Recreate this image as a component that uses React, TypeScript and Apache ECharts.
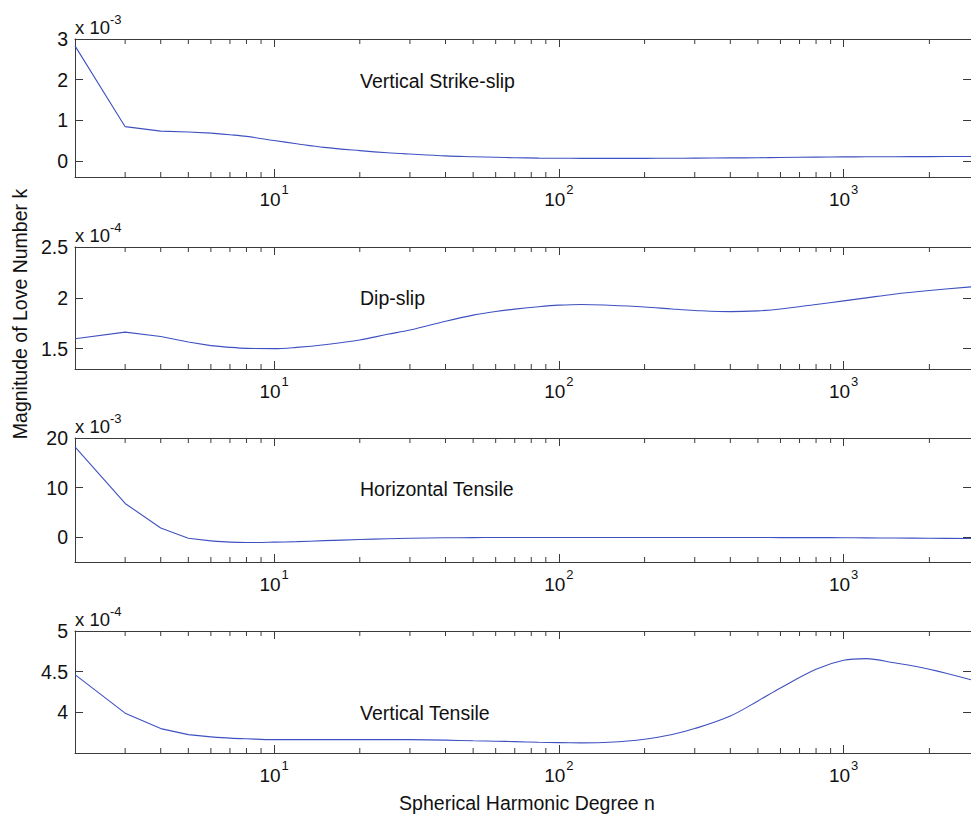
import React, { useEffect, useRef } from "react";
import * as echarts from "echarts";

// Spherical harmonic degree n
const degrees = [2, 3, 4, 5, 6, 7, 8, 10, 12, 15, 20, 25, 30, 40, 50, 60, 70, 85, 100, 120, 150, 200, 250, 300, 400, 500, 600, 800, 1000, 1200, 1500, 2000, 2800];

// Magnitudes of Love number k (in units of the panel's multiplier)
const strikeSlip = [2.83, 0.84, 0.73, 0.71, 0.68, 0.64, 0.6, 0.5, 0.42, 0.33, 0.25, 0.197, 0.165, 0.12, 0.1, 0.085, 0.075, 0.066, 0.062, 0.06, 0.06, 0.06, 0.062, 0.065, 0.07, 0.075, 0.08, 0.09, 0.095, 0.098, 0.1, 0.103, 0.105];
const dipSlip = [1.598, 1.663, 1.62, 1.565, 1.53, 1.513, 1.503, 1.5, 1.513, 1.539, 1.585, 1.641, 1.683, 1.77, 1.83, 1.866, 1.889, 1.913, 1.928, 1.935, 1.927, 1.91, 1.89, 1.876, 1.864, 1.872, 1.89, 1.935, 1.97, 2.0, 2.036, 2.072, 2.108];
const horizTensile = [18.2, 6.8, 1.85, -0.2, -0.75, -1.0, -1.07, -1.0, -0.9, -0.7, -0.47, -0.32, -0.22, -0.12, -0.08, -0.06, -0.05, -0.05, -0.06, -0.06, -0.06, -0.06, -0.06, -0.06, -0.06, -0.06, -0.08, -0.09, -0.1, -0.13, -0.17, -0.22, -0.27];
const vertTensile = [4.463, 3.99, 3.8, 3.726, 3.698, 3.683, 3.675, 3.665, 3.665, 3.665, 3.665, 3.665, 3.664, 3.658, 3.65, 3.645, 3.64, 3.632, 3.627, 3.625, 3.632, 3.67, 3.728, 3.8, 3.955, 4.14, 4.3, 4.53, 4.64, 4.66, 4.61, 4.53, 4.4];

const panelTitles = ["Vertical Strike-slip", "Dip-slip", "Horizontal Tensile", "Vertical Tensile"];
const panelExponents = ["-3", "-4", "-3", "-4"];
const yMins = [-0.4, 1.3, -5, 3.5];
const yMaxs = [3, 2.5, 20, 5];
const yTickValues = [[0, 1, 2, 3], [1.5, 2, 2.5], [0, 10, 20], [4, 4.5, 5]];
const xMajorTicks = [10, 100, 1000];
const xMinorTicks = [3, 4, 5, 6, 7, 8, 9, 20, 30, 40, 50, 60, 70, 80, 90, 200, 300, 400, 500, 600, 700, 800, 900, 2000];
const xMin = 2;
const xMax = 2800;
const sharpUntil = 6; // straight segments up to this degree, smooth beyond

const FONT = "Liberation Sans, Arial, Helvetica, sans-serif";
const AXIS_COLOR = "#3a3a3a";
const LINE_COLOR = "#3f51c0";

export default function App() {
  const ref = useRef<HTMLDivElement>(null);
  useEffect(() => {
    if (!ref.current) return;
    const chart = echarts.init(ref.current, null, { renderer: "svg" });
    const seriesData = [strikeSlip, dipSlip, horizTensile, vertTensile];
    const grids = [
      { top: 39, height: 138 },
      { top: 247, height: 122 },
      { top: 438, height: 124 },
      { top: 631, height: 122 },
    ];
    const xAxes: any[] = [];
    const yAxes: any[] = [];
    const series: any[] = [];
    const graphics: any[] = [];
    grids.forEach((g, i) => {
      const lineStyle = { color: AXIS_COLOR, width: 1 };
      xAxes.push({
        type: "log", logBase: 10, gridIndex: i, min: xMin, max: xMax, position: "bottom",
        axisLine: { show: true, onZero: false, lineStyle },
        axisTick: { show: true, inside: true, length: 8, customValues: xMajorTicks, lineStyle },
        axisLabel: {
          customValues: xMajorTicks, margin: 6, color: "#111",
          formatter: (v: number) => `{b|10}{s|${Math.round(Math.log10(v))}}`,
          rich: {
            b: { fontSize: 19, fontFamily: FONT, color: "#111", lineHeight: 26, verticalAlign: "bottom" },
            s: { fontSize: 13, fontFamily: FONT, color: "#111", verticalAlign: "top", padding: [0, 0, 0, 1] },
          },
        },
        splitLine: { show: false },
      });
      xAxes.push({
        type: "log", logBase: 10, gridIndex: i, min: xMin, max: xMax, position: "top",
        axisLine: { show: true, onZero: false, lineStyle },
        axisTick: { show: true, inside: true, length: 8, customValues: xMajorTicks, lineStyle },
        axisLabel: { show: false },
        splitLine: { show: false },
      });
      yAxes.push({
        type: "value", gridIndex: i, min: yMins[i], max: yMaxs[i], position: "left",
        axisLine: { show: true, onZero: false, lineStyle },
        axisTick: { show: true, inside: true, length: 8, customValues: yTickValues[i], lineStyle },
        axisLabel: { customValues: yTickValues[i], fontSize: 19.5, fontFamily: FONT, color: "#111", margin: 7 },
        splitLine: { show: false },
      });
      yAxes.push({
        type: "value", gridIndex: i, min: yMins[i], max: yMaxs[i], position: "right",
        axisLine: { show: true, onZero: false, lineStyle },
        axisTick: { show: true, inside: true, length: 8, customValues: yTickValues[i], lineStyle },
        axisLabel: { show: false },
        splitLine: { show: false },
      });
      const pts = degrees.map((n, j) => [n, seriesData[i][j]]);
      const lineCommon = {
        type: "line", xAxisIndex: 2 * i, yAxisIndex: 2 * i,
        showSymbol: false, symbol: "none", silent: true,
        lineStyle: { color: LINE_COLOR, width: 1.1 },
      };
      series.push({ ...lineCommon, data: pts.filter((p) => p[0] <= sharpUntil) });
      series.push({ ...lineCommon, data: pts.filter((p) => p[0] >= sharpUntil), smooth: 0.35 });
      series.push({
        type: "custom", xAxisIndex: 2 * i, yAxisIndex: 2 * i, silent: true,
        data: xMinorTicks.map((v) => [v, yMins[i]]),
        renderItem: (params: any, api: any) => {
          const x = api.coord([api.value(0), api.value(1)])[0];
          const cs = params.coordSys;
          const st = { stroke: AXIS_COLOR, lineWidth: 1 };
          return {
            type: "group",
            children: [
              { type: "line", shape: { x1: x, y1: cs.y + cs.height, x2: x, y2: cs.y + cs.height - 5 }, style: st },
              { type: "line", shape: { x1: x, y1: cs.y, x2: x, y2: cs.y + 5 }, style: st },
            ],
          };
        },
      });
      graphics.push({
        type: "text", x: 75, y: g.top - 14,
        style: {
          text: `{a|x 10}{s|${panelExponents[i]}}`,
          verticalAlign: "middle",
          rich: {
            a: { fontSize: 18.5, fontFamily: FONT, fill: "#111", lineHeight: 24, verticalAlign: "bottom" },
            s: { fontSize: 13, fontFamily: FONT, fill: "#111", verticalAlign: "top" },
          },
        },
      });
    });
    const titleYs = [81, 297.5, 489, 713];
    panelTitles.forEach((t, i) => {
      graphics.push({
        type: "text", x: 360, y: titleYs[i],
        style: { text: t, fontSize: 19.5, fontFamily: FONT, fill: "#111", verticalAlign: "middle" },
      });
    });
    graphics.push({
      type: "text", x: 527, y: 803,
      style: { text: "Spherical Harmonic Degree n", fontSize: 19.5, fontFamily: FONT, fill: "#111", align: "center", verticalAlign: "middle" },
    });
    graphics.push({
      type: "text", x: 20, y: 314, rotation: Math.PI / 2,
      style: { text: "Magnitude of Love Number k", fontSize: 19.5, fontFamily: FONT, fill: "#111", align: "center", verticalAlign: "middle" },
    });

    chart.setOption({
      animation: false,
      backgroundColor: "#ffffff",
      grid: grids.map((g) => ({ left: 75, width: 897, top: g.top, height: g.height, containLabel: false })),
      xAxis: xAxes,
      yAxis: yAxes,
      series,
      graphic: graphics,
    });
    return () => chart.dispose();
  }, []);
  return <div ref={ref} style={{ position: "absolute", left: 0, top: 0, width: 971, height: 818 }} />;
}
